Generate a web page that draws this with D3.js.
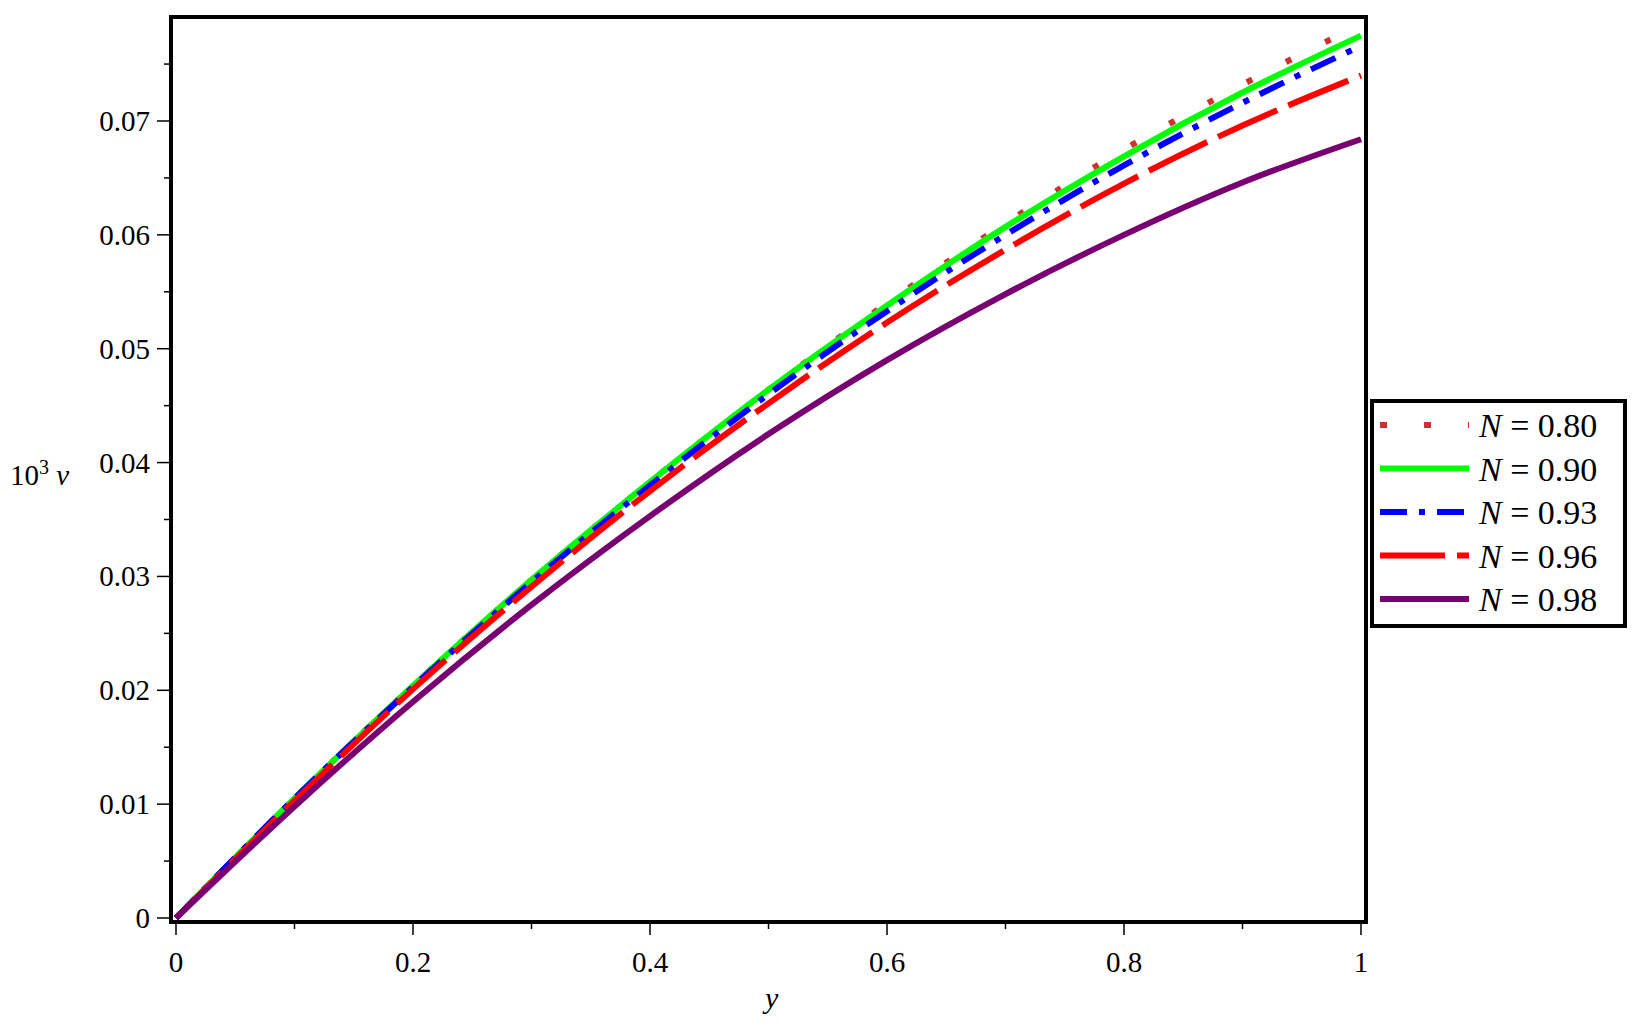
<!DOCTYPE html><html><head><meta charset="utf-8"><script src="https://cdn.jsdelivr.net/npm/d3@7"></script>
<style>body{margin:0;background:#fff}svg{font-family:"Liberation Serif","Times New Roman",serif}</style></head><body>
<svg id="c" width="1637" height="1026"></svg>
<script>
const xs = [0,0.1,0.2,0.3,0.4,0.5,0.6,0.7,0.8,0.9,1];
const labels = ["0.80","0.90","0.93","0.96","0.98"];
const colors = ["#d03030","#00ff00","#0000ff","#ff0000","#780070"];
const dashes = ["6,38","none","27,12,6,12","65,12","none"];
const s080 = [0,.0105,.0204,.0297,.0383,.0464,.0540,.0610,.0675,.0732,.0785];
const s090 = [0,.0105,.0204,.0297,.0383,.0464,.0538,.0607,.0669,.0725,.0775];
const s093 = [0,.0105,.0203,.0295,.0380,.0460,.0533,.0600,.0661,.0716,.0766];
const s096 = [0,.0103,.0201,.0291,.0375,.0452,.0523,.0587,.0645,.0696,.0740];
const s098 = [0,.0098,.0190,.0275,.0353,.0425,.0490,.0548,.0600,.0646,.0684];
const series = [s080,s090,s093,s096,s098];
const xTicks = [0,0.2,0.4,0.6,0.8,1];
const yTicks = [0,0.01,0.02,0.03,0.04,0.05,0.06,0.07];

const svg = d3.select("#c");
const x = d3.scaleLinear().domain([0,1]).range([176,1361]);
const y = d3.scaleLinear().domain([0,0.07]).range([918,121]);
const L=171,R=1366,T=17,B=922;
const g = svg.append("g");
// minor ticks
d3.range(0,1.001,0.1).forEach(v=>g.append("line").attr("x1",x(v)).attr("x2",x(v)).attr("y1",B).attr("y2",B+(xTicks.some(t=>Math.abs(t-v)<1e-9)?13:7)).attr("stroke","#000").attr("stroke-width",1.5));
d3.range(0,0.0791,0.005).forEach(v=>g.append("line").attr("y1",y(v)).attr("y2",y(v)).attr("x1",L).attr("x2",L-(yTicks.some(t=>Math.abs(t-v)<1e-9)?14:7)).attr("stroke","#000").attr("stroke-width",1.5));
xTicks.forEach(v=>g.append("text").attr("x",x(v)).attr("y",972).attr("text-anchor","middle").attr("font-size",29).text(v));
yTicks.forEach(v=>g.append("text").attr("x",150).attr("y",y(v)+10).attr("text-anchor","end").attr("font-size",29).text(v===0?"0":v.toFixed(2)));
const line = d3.line().x((d,i)=>x(xs[i])).y(d=>y(d)).curve(d3.curveMonotoneX);
series.forEach((s,i)=>g.append("path").attr("d",line(s)).attr("fill","none").attr("stroke",colors[i]).attr("stroke-width",6).attr("stroke-dasharray",dashes[i]));
g.append("rect").attr("x",L).attr("y",T).attr("width",R-L).attr("height",B-T).attr("fill","none").attr("stroke","#000").attr("stroke-width",4);
g.append("text").attr("x",765).attr("y",1008).attr("font-size",30).attr("font-style","italic").text("y");
const yl = g.append("text").attr("x",10).attr("y",485).attr("font-size",29);
yl.append("tspan").text("10");
yl.append("tspan").attr("dy",-11).attr("font-size",20).text("3");
yl.append("tspan").attr("dy",11).attr("font-style","italic").text(" v");
// legend
g.append("rect").attr("x",1372).attr("y",401).attr("width",253).attr("height",225).attr("fill","#fff").attr("stroke","#000").attr("stroke-width",4);
labels.forEach((lab,i)=>{
  const yy=425+i*43.5;
  g.append("line").attr("x1",1380).attr("x2",1469).attr("y1",yy).attr("y2",yy).attr("stroke",colors[i]).attr("stroke-width",6).attr("stroke-dasharray",i===0?"7,37":dashes[i]);
  const t=g.append("text").attr("x",1479).attr("y",yy+12).attr("font-size",34);
  t.append("tspan").attr("font-style","italic").text("N");
  t.append("tspan").text(" = "+lab);
});
</script></body></html>
